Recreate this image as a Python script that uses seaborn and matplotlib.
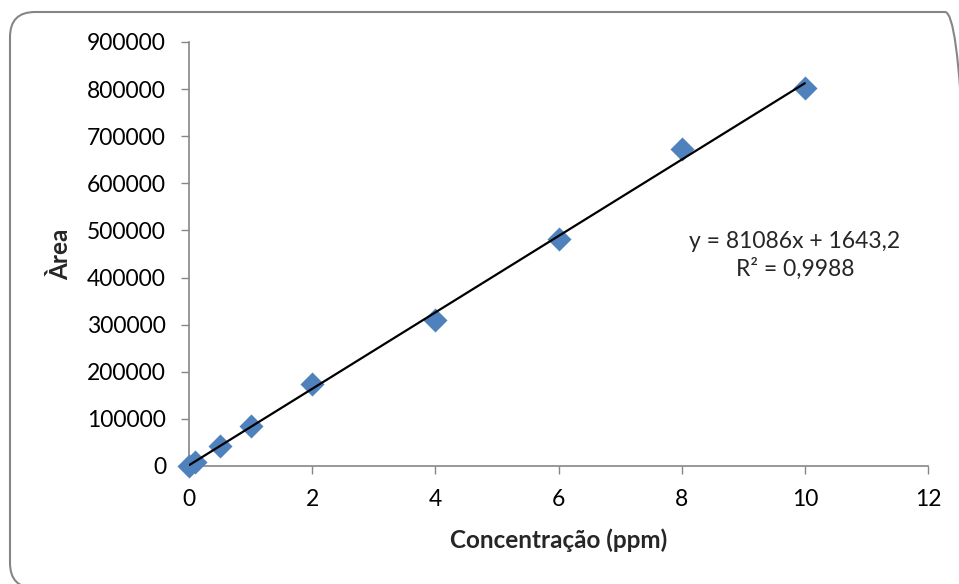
import numpy as np
import pandas as pd
import matplotlib
matplotlib.use("Agg")
import matplotlib.pyplot as plt
import matplotlib.transforms as mtransforms
import seaborn as sns
from matplotlib.patches import FancyBboxPatch

conc = [0, 0.1, 0.5, 1, 2, 4, 6, 8, 10]
area = [0, 9000, 42500, 85000, 174000, 310000, 481000, 672000, 802000]
slope = 81086
intercept = 1643.2
eq_text = "y = 81086x + 1643,2"
r2_text = "R² = 0,9988"
x_ticks = [0, 2, 4, 6, 8, 10, 12]
y_ticks = [0, 100000, 200000, 300000, 400000, 500000, 600000, 700000, 800000, 900000]

sns.set_theme(style="white")
plt.rcParams['font.family'] = ['Lato', 'DejaVu Sans']

df = pd.DataFrame({"x": conc, "y": area})

fig = plt.figure(figsize=(9.59, 5.84), dpi=100)
W, H = 959, 584
ax = fig.add_axes([189 / W, 1 - 466 / H, (928 - 189) / W, (466 - 42) / H])

xl = np.array([min(conc), max(conc)])
sns.lineplot(x=xl, y=slope * xl + intercept, ax=ax, color="black", linewidth=1.6, zorder=3)
sns.scatterplot(data=df, x="x", y="y", ax=ax, marker="D", s=150, color="#4F81BD",
                edgecolor="#4F81BD", linewidth=0, zorder=2, clip_on=False)

ax.set_xlim(0, 12)
ax.set_ylim(0, 900000)
ax.set_xticks(x_ticks)
ax.set_yticks(y_ticks)
ax.set_xticklabels([str(t) for t in x_ticks])
ax.set_yticklabels([str(t) for t in y_ticks])
for s in ["top", "right"]:
    ax.spines[s].set_visible(False)
for s in ["left", "bottom"]:
    ax.spines[s].set_color("#868686")
    ax.spines[s].set_linewidth(1.2)
    ax.spines[s].set_zorder(1)
ax.tick_params(axis="both", which="both", direction="out", length=5.5, width=1.0,
               color="#868686", labelsize=16.5, labelcolor="black", pad=11)
ax.tick_params(axis="y", left=True)
ax.tick_params(axis="x", bottom=True)
ax.grid(False)
ax.set_xlabel("Concentração (ppm)", fontsize=17.5, fontweight="bold", labelpad=13)
ax.set_ylabel("Àrea", fontsize=17.5, fontweight="bold", labelpad=11)

fig.text(795 / W, 1 - 241 / H, eq_text, ha="center", va="center", fontsize=16.5)
fig.text(795 / W, 1 - 269 / H, r2_text, ha="center", va="center", fontsize=16.5)

border = FancyBboxPatch((10, -4), 960, 576,
                        boxstyle="round,pad=0,rounding_size=25",
                        transform=mtransforms.IdentityTransform(), facecolor="none",
                        edgecolor="#868686", linewidth=1.5)
fig.patches.append(border)

fig.savefig("out.png", dpi=100)
